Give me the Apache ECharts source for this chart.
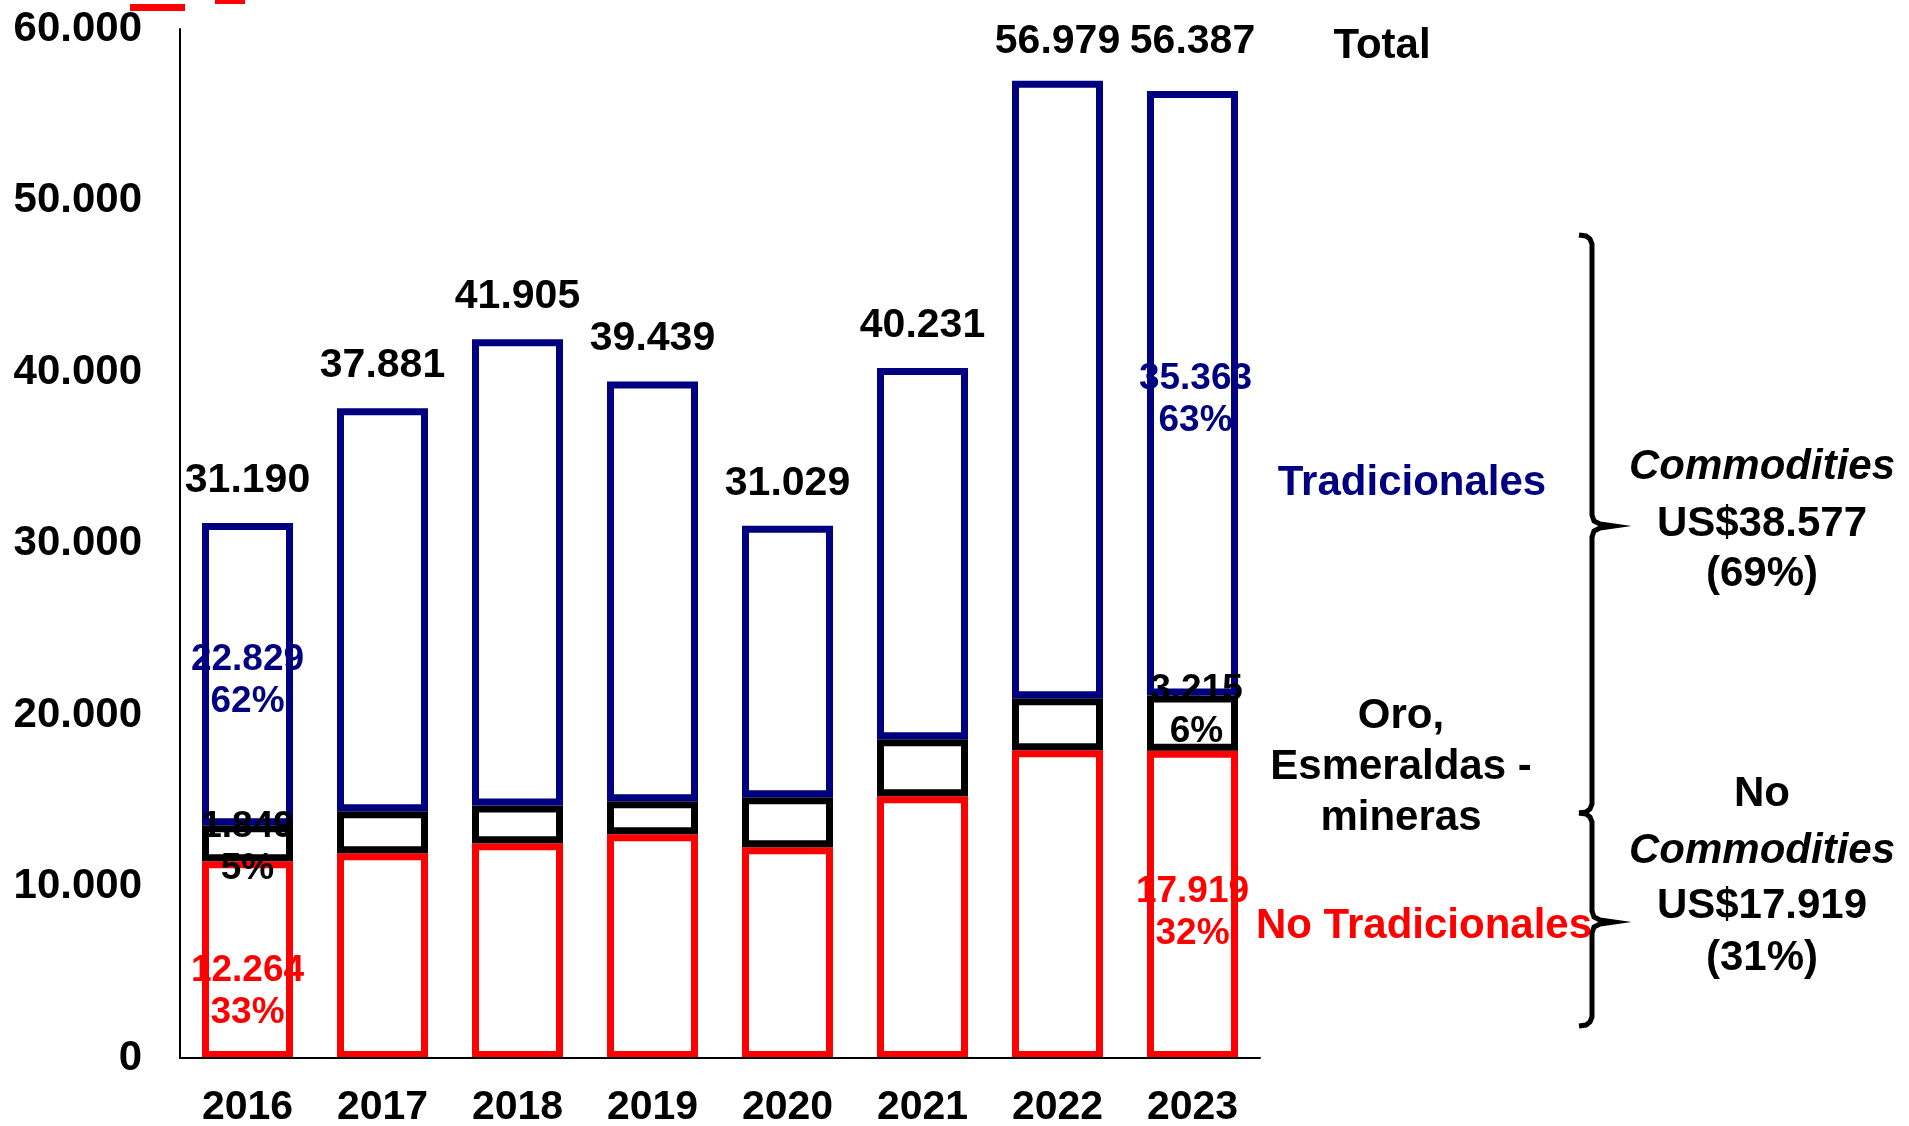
<!DOCTYPE html>
<html>
<head>
<meta charset="utf-8">
<script src="https://cdn.jsdelivr.net/npm/echarts@6/dist/echarts.min.js"></script>
<style>
  html, body { margin: 0; padding: 0; background: #fff; }
  #main { width: 1909px; height: 1126px; }
</style>
</head>
<body>
<div id="main"></div>
<script>
// datos (millones US$)
var years = ['2016', '2017', '2018', '2019', '2020', '2021', '2022', '2023'];
var noTradicionales = [11470, 11940, 12520, 13050, 12290, 15260, 17940, 17919];
var oroEsmeraldas = [2100, 2450, 2210, 1920, 2910, 3320, 3030, 3215];
var tradicionales = [17620, 23491, 27175, 24469, 15829, 21651, 36009, 35253];
var totals = [31190, 37881, 41905, 39439, 31029, 40231, 56979, 56387];

// etiquetas internas (solo 2016 y 2023)
var tradLabels = ['22.829\n62%', null, null, null, null, null, null, '35.363\n63%'];
var oroLabels = ['1.849\n5%', null, null, null, null, null, null, '3.215\n6%'];
var noTradLabels = ['12.264\n33%', null, null, null, null, null, null, '17.919\n32%'];

var FONT = '"Liberation Sans", Arial, sans-serif';
var NAVY = '#000080', RED = '#ff0000', BLACK = '#000000';
var BAR_W = 91;

function fmt(v) {
    return String(v).replace(/\B(?=(\d{3})+(?!\d))/g, '.');
}

function buildData(values, labels, color, offsets) {
    return values.map(function (v, i) {
        if (!labels[i]) return v;
        return {
            value: v,
            label: {
                show: true,
                position: 'inside',
                formatter: labels[i],
                color: color,
                fontSize: 37,
                fontWeight: 'bold',
                fontFamily: FONT,
                lineHeight: 42,
                offset: offsets[i] || [0, 0]
            }
        };
    });
}

// llave: gancho arriba, punta al medio, gancho abajo
function brace(top, mid, bottom) {
    var x = 1592, l = 1579, t = 1614;
    return [[l, top], [1586, top + 1], [1590, top + 4], [x, top + 9],
        [x, mid - 11], [1594, mid - 5], [1600, mid - 2], [t, mid],
        [1600, mid + 2], [1594, mid + 5], [x, mid + 11],
        [x, bottom - 9], [1590, bottom - 4], [1586, bottom - 1], [l, bottom]];
}

function txt(text, x, y, opts) {
    var s = { text: text, x: x, y: y, align: 'center', verticalAlign: 'middle',
        fontSize: 42, fontWeight: 'bold', fontFamily: FONT, fill: BLACK };
    for (var k in opts) s[k] = opts[k];
    return { type: 'text', style: s };
}

// los dos ultimos totales van a la misma altura
var totalOffsets = { 6: [0, 3], 7: [0, -7] };
var totalData = totals.map(function (v, i) {
    return totalOffsets[i] ? { value: v, label: { offset: totalOffsets[i] } } : v;
});

var myChart = echarts.init(document.getElementById('main'));

var option = {
    backgroundColor: '#fff',
    animation: false,
    grid: { left: 180, right: 649, top: 29, bottom: 68, containLabel: false, outerBoundsMode: 'none' },
    xAxis: {
        type: 'category',
        data: years,
        axisLine: { show: true, lineStyle: { color: BLACK, width: 2 } },
        axisTick: { show: false },
        axisLabel: { color: BLACK, fontSize: 41, fontWeight: 'bold', fontFamily: FONT, margin: 29 },
        z: 10
    },
    yAxis: {
        type: 'value',
        min: 0,
        max: 60000,
        interval: 10000,
        axisLine: { show: true, lineStyle: { color: BLACK, width: 2 } },
        axisTick: { show: false },
        splitLine: { show: false },
        axisLabel: {
            color: BLACK, fontSize: 42, fontWeight: 'bold', fontFamily: FONT, margin: 38,
            formatter: function (v) { return fmt(v); }
        }
    },
    series: [
        {
            name: 'No Tradicionales',
            type: 'bar',
            stack: 'total',
            barWidth: BAR_W,
            itemStyle: { color: '#fff', borderColor: RED, borderWidth: 7 },
            data: buildData(noTradicionales, noTradLabels, RED, { 0: [0, 32], 7: [0, 8] })
        },
        {
            name: 'Oro, Esmeraldas - mineras',
            type: 'bar',
            stack: 'total',
            barWidth: BAR_W,
            itemStyle: { color: '#fff', borderColor: BLACK, borderWidth: 7 },
            data: buildData(oroEsmeraldas, oroLabels, BLACK, { 0: [0, 5], 7: [4, -12] })
        },
        {
            name: 'Tradicionales',
            type: 'bar',
            stack: 'total',
            barWidth: BAR_W,
            itemStyle: { color: '#fff', borderColor: NAVY, borderWidth: 7 },
            data: buildData(tradicionales, tradLabels, NAVY, { 0: [0, 7], 7: [3, 7] })
        },
        {
            name: 'Total',
            type: 'scatter',
            symbolSize: 0,
            silent: true,
            itemStyle: { opacity: 1 },
            label: {
                show: true,
                position: 'top',
                distance: 22,
                color: BLACK,
                opacity: 1,
                fontSize: 41,
                fontWeight: 'bold',
                fontFamily: FONT,
                formatter: function (p) { return fmt(totals[p.dataIndex]); }
            },
            data: totalData
        }
    ],
    graphic: [
        // restos rojos arriba a la izquierda
        { type: 'rect', shape: { x: 130, y: 4, width: 55, height: 7 }, style: { fill: RED } },
        { type: 'rect', shape: { x: 215, y: 0, width: 30, height: 4 }, style: { fill: RED } },
        txt('Total', 1382, 46),
        txt('Tradicionales', 1412, 483, { fill: NAVY }),
        txt('Oro,\nEsmeraldas -\nmineras', 1401, 767, { lineHeight: 51 }),
        txt('No Tradicionales', 1424, 926, { fill: RED }),
        { type: 'polyline', shape: { points: brace(235, 526, 813) }, style: { fill: null, stroke: BLACK, lineWidth: 5 } },
        { type: 'polyline', shape: { points: brace(813, 922, 1026) }, style: { fill: null, stroke: BLACK, lineWidth: 5 } },
        txt('Commodities', 1762, 467, { fontStyle: 'italic' }),
        txt('US$38.577\n(69%)', 1762, 549, { lineHeight: 50 }),
        txt('No', 1762, 794),
        txt('Commodities', 1762, 851, { fontStyle: 'italic' }),
        txt('US$17.919\n(31%)', 1762, 932, { lineHeight: 52 })
    ]
};

myChart.setOption(option);
</script>
</body>
</html>
